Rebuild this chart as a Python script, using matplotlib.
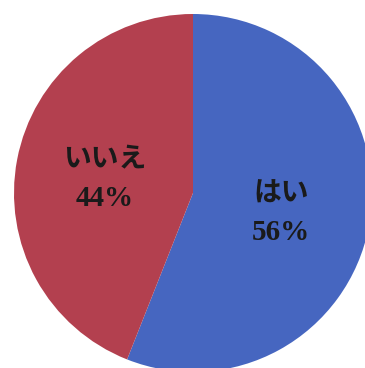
import numpy as np
import matplotlib.pyplot as plt

# --- Data ---
labels = ['はい', 'いいえ']
shares = [56, 44]
colors = ['#4666C0', '#B3404F']

# --- Figure (axes in pixel units) ---
W, H = 365, 368
fig = plt.figure(figsize=(W / 100, H / 100), dpi=100)
ax = fig.add_axes([0, 0, 1, 1])

cx, cy, r = 193, H - 193, 179
wedges, _ = ax.pie(shares, colors=colors, startangle=90, counterclock=False,
                   center=(cx, cy), radius=r, frame=True,
                   wedgeprops=dict(linewidth=0))
ax.set_xlim(0, W)
ax.set_ylim(0, H)
ax.axis('off')

# --- Labels: name on top, percentage below ---
for w, name, pct in zip(wedges, labels, shares):
    mid = np.deg2rad((w.theta1 + w.theta2) / 2)
    x = cx + 0.5 * r * np.cos(mid)
    y = cy + 0.5 * r * np.sin(mid) - 3
    ax.annotate(name, (x, y), xytext=(0, 14), textcoords='offset points',
                ha='center', va='center', fontsize=20, fontweight='bold',
                family=['Noto Sans CJK JP', 'DejaVu Sans'], color='#1a1a1a')
    ax.annotate(f'{pct}%', (x, y), xytext=(0, -14), textcoords='offset points',
                ha='center', va='center', fontsize=21, fontweight='bold',
                family='Liberation Serif', color='#1a1a1a')

fig.savefig('out.png', dpi=100)
